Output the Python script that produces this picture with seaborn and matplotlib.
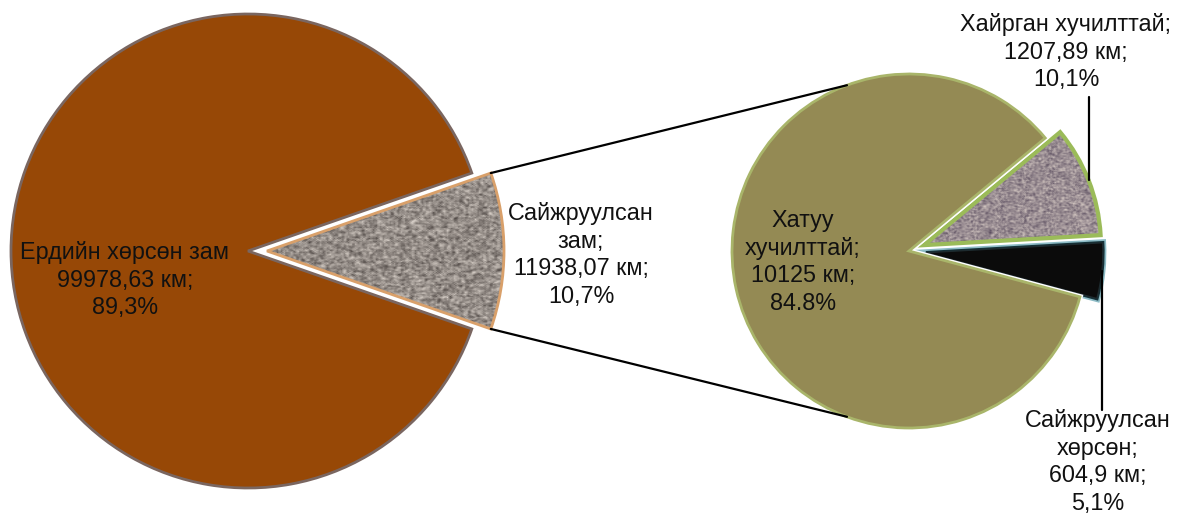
import numpy as np
import seaborn as sns
import matplotlib.pyplot as plt
import matplotlib.patheffects as pe
from matplotlib.colors import LinearSegmentedColormap

# Road network data (km and share)
left_names = ["Сайжруулсан\nзам;", "Ердийн хөрсөн зам"]
left_km = [11938.07, 99978.63]
left_km_text = ["11938,07", "99978,63"]
left_pct_text = ["10,7%", "89,3%"]

right_names = ["Сайжруулсан\nхөрсөн;", "Хайрган хучилттай;", "Хатуу\nхучилттай;"]
right_km = [604.9, 1207.89, 10125]
right_km_text = ["604,9", "1207,89", "10125"]
right_pct_text = ["5,1%", "10,1%", "84.8%"]

sns.set_theme(style="white")
plt.rcParams["font.family"] = ["Liberation Sans", "DejaVu Sans"]

W, H = 1177, 517
fig = plt.figure(figsize=(W / 100, H / 100), dpi=100)
ax = fig.add_axes([0, 0, 1, 1])

brown = "#974806"
olive = "#948A54"

# pixel-ish layout, y pointing up
lc, lr = (248, 266), 237
rc, rr = (909, 266), 177
l_start = -left_km[0] / sum(left_km) * 360 / 2
r_start = -15

# explode is in data units here (radius is not 1)
lw_, _ = ax.pie(left_km, colors=["#a09890", brown], explode=[19, 0],
                startangle=l_start, center=lc, radius=lr,
                wedgeprops=dict(linewidth=2))
rw_, _ = ax.pie(right_km, colors=["#0b0b0b", "#a89ca0", olive], explode=[17, 16, 0],
                startangle=r_start, center=rc, radius=rr,
                wedgeprops=dict(linewidth=2))

lw_[1].set_edgecolor("#7a6660")
lw_[0].set_edgecolor("#d9a06a")
rw_[2].set_edgecolor("#a9b56a")
rw_[2].set_path_effects([pe.Stroke(linewidth=4, foreground="#ffffff"), pe.Normal()])
lw_[1].set_path_effects([pe.Stroke(linewidth=4, foreground="#ffffff"), pe.Normal()])
rw_[1].set_edgecolor("#9bbb59")
rw_[1].set_linewidth(3)
rw_[0].set_edgecolor("#1d2a2e")
rw_[0].set_linewidth(1)
rw_[0].set_path_effects([pe.Stroke(linewidth=5, foreground="#2f8496", alpha=0.55),
                         pe.Stroke(linewidth=2.5, foreground="#14333a"), pe.Normal()])


def gravel(wedge, c_dark, c_light, seed):
    rng = np.random.default_rng(seed)
    n = 170
    t = rng.random((n, n))
    t = (t + np.roll(t, 1, 0) + np.roll(t, 1, 1) + np.roll(t, -1, 0) + np.roll(t, -1, 1)) / 5
    cmap = LinearSegmentedColormap.from_list("g", [c_dark, c_light])
    ext = wedge.get_path().get_extents()
    im = ax.imshow(t, cmap=cmap, extent=(ext.x0, ext.x1, ext.y0, ext.y1),
                   origin="lower", interpolation="bilinear", zorder=0.5)
    im.set_clip_path(wedge)
    wedge.set_facecolor("none")


gravel(lw_[0], "#4a4340", "#e2dad2", 1)
gravel(rw_[1], "#54475a", "#e0d4cc", 2)


def wedge_point(w, ang, r):
    cx, cy = w.center
    return cx + r * np.cos(np.radians(ang)), cy + r * np.sin(np.radians(ang))


# connector lines from the exploded slice to the second pie
for ang_l, ang_r in [(lw_[0].theta2, 110.5), (lw_[0].theta1, -110.5)]:
    x0, y0 = wedge_point(lw_[0], ang_l, lr)
    x1, y1 = wedge_point(rw_[2], ang_r, rr)
    ax.plot([x0, x1], [y0, y1], color="black", lw=1.6, zorder=3)

txt = dict(ha="center", va="center", fontsize=16.8, color="#111111", linespacing=1.27, zorder=4)

ax.text(125, H - 280, f"{left_names[1]}\n{left_km_text[1]} км;\n{left_pct_text[1]}", **txt)
ax.text(581, H - 255, f"{left_names[0]}\n{left_km_text[0]} км;\n{left_pct_text[0]}", **txt)
ax.text(803, H - 262, f"{right_names[2]}\n{right_km_text[2]} км;\n{right_pct_text[2]}", **txt)
ax.text(1066, H - 52, f"{right_names[1]}\n{right_km_text[1]} км;\n{right_pct_text[1]}", **txt)
ax.text(1098, H - 462, f"{right_names[0]}\n{right_km_text[0]} км;\n{right_pct_text[0]}", **txt)

# leader lines for the small slices
for w, y_end in [(rw_[1], H - 97), (rw_[0], H - 410)]:
    mid = (w.theta1 + w.theta2) / 2
    x0, y0 = wedge_point(w, mid, rr)
    ax.plot([x0, x0], [y0, y_end], color="black", lw=1.6, zorder=3)

ax.set_xlim(0, W)
ax.set_ylim(0, H)
ax.set_aspect("equal")
ax.axis("off")

plt.savefig("out.png", dpi=100)
